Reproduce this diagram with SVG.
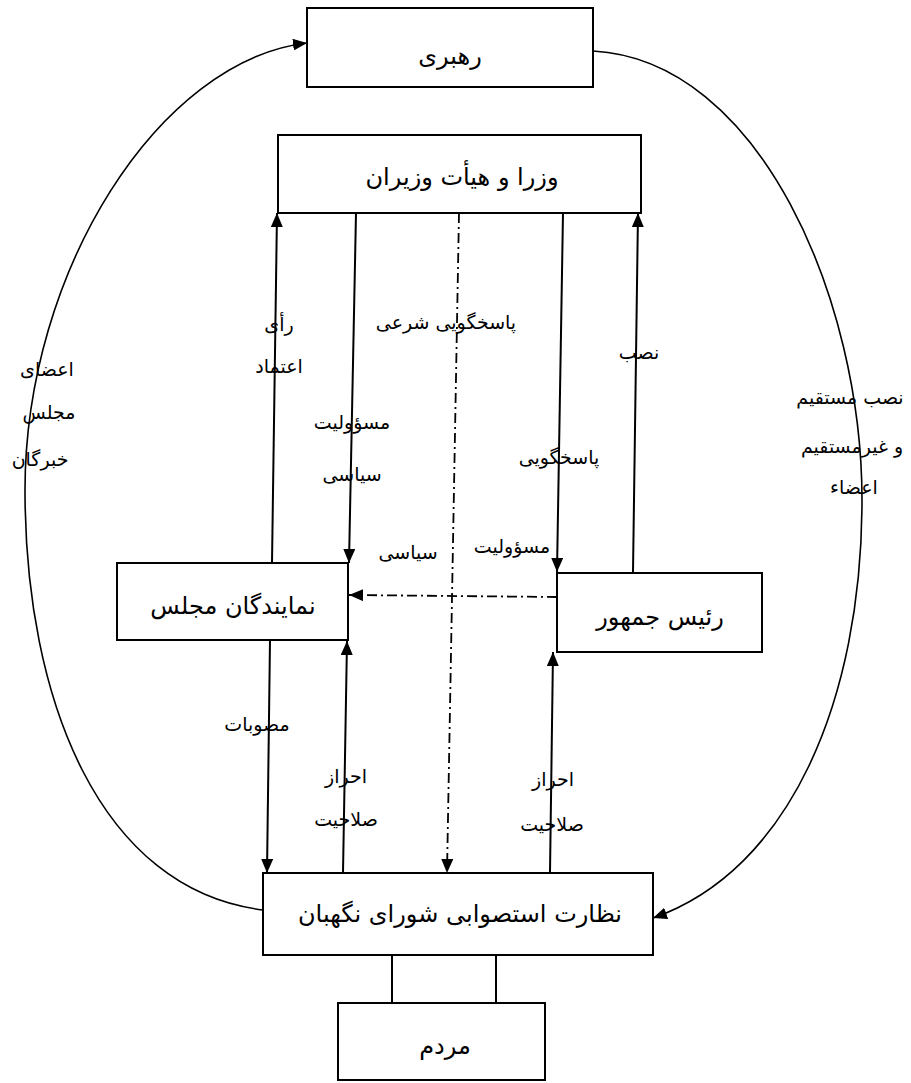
<svg xmlns="http://www.w3.org/2000/svg" width="911" height="1083" viewBox="0 0 911 1083">
<style>
.box{fill:#fff;stroke:#000;stroke-width:2}
.t{font-family:"DejaVu Sans",sans-serif;font-size:24px;fill:#000;text-anchor:middle}
.l{font-family:"DejaVu Sans",sans-serif;font-size:19px;fill:#000;text-anchor:middle}
.c{fill:none;stroke:#000;stroke-width:2}
.a{fill:none;stroke:#000;stroke-width:1.6}
.d{fill:none;stroke:#000;stroke-width:1.8;stroke-dasharray:10 4 2 4}
</style>
<defs>
<marker id="ah" viewBox="0 0 14 12" refX="14" refY="6" markerWidth="14" markerHeight="12" markerUnits="userSpaceOnUse" orient="auto">
<path d="M0,0 L14,6 L0,12 z" fill="#000"/>
</marker>
</defs>
<rect width="911" height="1083" fill="#fff"/>
<g id="connectors">
<path class="a" d="M263,910 C100,890 25,700 25,490 C25,270 160,60 307,43" marker-end="url(#ah)"/>
<path class="a" d="M593,51 C760,60 862,300 862,500 C862,700 790,870 653,918" marker-end="url(#ah)"/>
<line class="c" x1="272" y1="563" x2="277" y2="213" marker-end="url(#ah)"/>
<line class="c" x1="356" y1="213" x2="349" y2="563" marker-end="url(#ah)"/>
<line class="d" x1="459" y1="213" x2="447" y2="873" marker-end="url(#ah)"/>
<line class="c" x1="563" y1="213" x2="557" y2="572" marker-end="url(#ah)"/>
<line class="c" x1="633" y1="572" x2="638" y2="213" marker-end="url(#ah)"/>
<line class="d" x1="557" y1="597" x2="349" y2="595" marker-end="url(#ah)"/>
<line class="c" x1="270" y1="640" x2="267" y2="873" marker-end="url(#ah)"/>
<line class="c" x1="343" y1="873" x2="347" y2="641" marker-end="url(#ah)"/>
<line class="c" x1="550" y1="873" x2="553" y2="652" marker-end="url(#ah)"/>
<line class="c" x1="392" y1="955" x2="392" y2="1003"/>
<line class="c" x1="496" y1="955" x2="496" y2="1003"/>
</g>
<g id="labels">
<text class="l" x="279" y="331">رأی</text>
<text class="l" x="279" y="373">اعتماد</text>
<text class="l" x="446" y="329">پاسخگویی شرعی</text>
<text class="l" x="639" y="359">نصب</text>
<text class="l" x="352" y="429">مسؤولیت</text>
<text class="l" x="352" y="481">سیاسی</text>
<text class="l" x="559" y="464">پاسخگویی</text>
<text class="l" x="408" y="559">سیاسی</text>
<text class="l" x="512" y="553">مسؤولیت</text>
<text class="l" x="257" y="731">مصوبات</text>
<text class="l" x="346" y="783">احراز</text>
<text class="l" x="346" y="826">صلاحیت</text>
<text class="l" x="553" y="786">احراز</text>
<text class="l" x="552" y="831">صلاحیت</text>
<text class="l" x="47" y="376">اعضای</text>
<text class="l" x="49" y="419">مجلس</text>
<text class="l" x="40" y="466">خبرگان</text>
<text class="l" x="850" y="404">نصب مستقیم</text>
<text class="l" x="852" y="453">و غیرمستقیم</text>
<text class="l" x="854" y="494">اعضاء</text>
</g>
<g id="rahbari"><rect class="box" x="307" y="8" width="286" height="79"/><text class="t" x="450" y="64">رهبری</text></g>
<g id="vozara"><rect class="box" x="278" y="135" width="363" height="78"/><text class="t" x="462" y="185">وزرا و هیأت وزیران</text></g>
<g id="namayandegan"><rect class="box" x="117" y="563" width="231" height="77"/><text class="t" x="233" y="614">نمایندگان مجلس</text></g>
<g id="raees"><rect class="box" x="557" y="573" width="205" height="79"/><text class="t" x="660" y="625">رئیس جمهور</text></g>
<g id="shora"><rect class="box" x="263" y="873" width="390" height="82"/><text class="t" x="460" y="922">نظارت استصوابی شورای نگهبان</text></g>
<g id="mardom"><rect class="box" x="338" y="1003" width="207" height="77"/><text class="t" x="445" y="1054">مردم</text></g>
</svg>
